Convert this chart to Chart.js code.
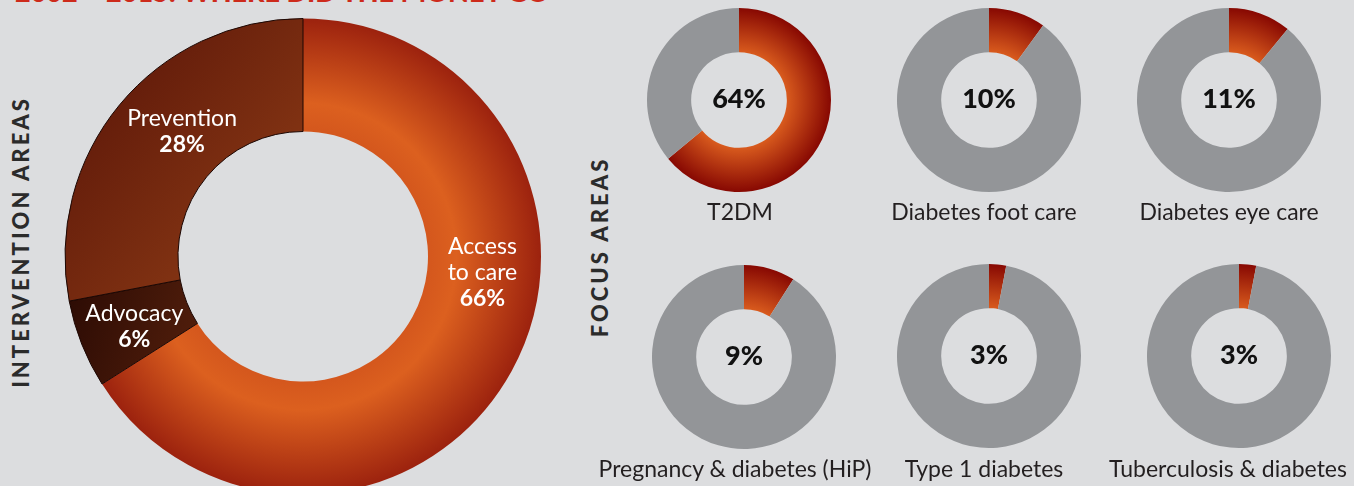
<!DOCTYPE html>
<html>
<head>
<meta charset="utf-8">
<script src="https://cdn.jsdelivr.net/npm/chart.js@4.4.1/dist/chart.umd.min.js"></script>
<style>
  html, body { margin: 0; padding: 0; }
  body { width: 1354px; height: 486px; background: #dcdddf; position: relative; overflow: hidden; font-family: Lato, sans-serif; }
  canvas { position: absolute; }
  .title { position: absolute; left: 15px; top: -22px; font-weight: 900; font-size: 27px; line-height: 27px; color: #cd2a1b; white-space: nowrap; }
  .side { position: absolute; font-weight: 900; font-size: 22px; line-height: 22px; color: #2b2b2b; letter-spacing: 3px; white-space: nowrap; transform: translate(-50%, -50%) rotate(-90deg); }
  .cap { position: absolute; font-size: 23px; line-height: 23px; color: #231f20; white-space: nowrap; transform: translateX(-50%); }
</style>
</head>
<body>
<div class="title">2002 – 2015: WHERE DID THE MONEY GO</div>
<div class="side" style="left:21px; top:242px">INTERVENTION AREAS</div>
<div class="side" style="left:600px; top:247px">FOCUS AREAS</div>
<canvas id="areas" width="600" height="513" style="left:3px; top:0px"></canvas>
<script>
// intervention areas (big ring)
const areaLabels = [['Access', 'to care'], ['Advocacy'], ['Prevention']]
const areaValues = [66, 6, 28]

// focus areas (small rings), share in %
const focusLabels = ['T2DM', 'Diabetes foot care', 'Diabetes eye care',
  'Pregnancy & diabetes (HiP)', 'Type 1 diabetes', 'Tuberculosis & diabetes']
const focusValues = [64, 10, 11, 9, 3, 3]

// layout
const bigR = 238, bigCut = 125
const labelAngle = [94.6, 247.9, 316.3]
const labelDist = [180, 182, 175]
const smallR = 92
const focusCenters = [[739, 100], [989, 100], [1229, 100], [744, 357], [989, 356], [1239, 356]]
const capCenters = [[740, 200], [984, 200], [1229, 200], [735, 457], [984, 457], [1228, 457]]

const center = (chart) => {
  const a = chart.chartArea
  return [(a.left + a.right) / 2, (a.top + a.bottom) / 2]
}

// one function for all three slices (arrays of functions are not resolved)
const areaFill = (c) => {
  const fallback = ['#d65a1e', '#3a1207', '#7a2c10'][c.dataIndex]
  if (!c.chart.chartArea) return fallback
  const [cx, cy] = center(c.chart)
  const ctx = c.chart.ctx
  let g
  if (c.dataIndex == 0) {
    g = ctx.createRadialGradient(cx, cy, bigCut, cx, cy, bigR)
    g.addColorStop(0, '#d4571d')
    g.addColorStop(0.25, '#dc601f')
    g.addColorStop(1, '#9c220e')
  } else if (c.dataIndex == 1) {
    g = ctx.createLinearGradient(cx - bigR, cy + 40, cx - 110, cy + 80)
    g.addColorStop(0, '#2c0b04')
    g.addColorStop(1, '#4f1d0b')
  } else {
    g = ctx.createLinearGradient(cx - bigR, cy - 200, cx, cy)
    g.addColorStop(0, '#5a1508')
    g.addColorStop(1, '#8e3c16')
  }
  return g
}

const areaText = {
  id: 'areaText',
  afterDatasetsDraw(chart) {
    const ctx = chart.ctx
    const [cx, cy] = center(chart)
    ctx.save()
    ctx.fillStyle = '#fff'
    ctx.textAlign = 'center'
    ctx.textBaseline = 'alphabetic'
    areaValues.forEach((v, i) => {
      const a = labelAngle[i] * Math.PI / 180
      const x = cx + labelDist[i] * Math.sin(a)
      const y = cy - labelDist[i] * Math.cos(a)
      const lines = [...areaLabels[i], v + '%']
      lines.forEach((t, j) => {
        ctx.font = (j == lines.length - 1 ? '700 ' : '400 ') + '23px Lato'
        ctx.fillText(t, x, y + 9 + 26 * (j - (lines.length - 1) / 2))
      })
    })
    ctx.restore()
  }
}

new Chart(document.getElementById('areas'), {
  type: 'doughnut',
  data: {
    labels: areaLabels,
    datasets: [{
      data: areaValues,
      backgroundColor: areaFill,
      borderColor: (c) => c.dataIndex == 0 ? 'rgba(0,0,0,0)' : '#1c0703',
      borderWidth: 1,
    }]
  },
  options: {
    responsive: false,
    animation: false,
    devicePixelRatio: 1,
    events: [],
    radius: bigR,
    cutout: (bigCut / bigR * 100) + '%',
    plugins: { legend: { display: false }, tooltip: { enabled: false } }
  },
  plugins: [areaText]
})

const focusFill = (c) => {
  if (c.dataIndex == 1) return '#939598'
  if (!c.chart.chartArea) return '#c0401a'
  const [cx, cy] = center(c.chart)
  const g = c.chart.ctx.createRadialGradient(cx, cy, smallR * 0.52, cx, cy, smallR)
  g.addColorStop(0, '#d85a1d')
  g.addColorStop(1, '#870802')
  return g
}

const centerText = {
  id: 'centerText',
  afterDraw(chart) {
    const ctx = chart.ctx
    const [cx, cy] = center(chart)
    ctx.save()
    ctx.font = '900 27px Lato'
    ctx.fillStyle = '#111'
    ctx.textAlign = 'center'
    ctx.textBaseline = 'alphabetic'
    ctx.fillText(chart.data.datasets[0].data[0] + '%', cx, cy + 8)
    ctx.restore()
  }
}

focusValues.forEach((v, i) => {
  const cv = document.createElement('canvas')
  cv.width = 200
  cv.height = 200
  cv.style.left = (focusCenters[i][0] - 100) + 'px'
  cv.style.top = (focusCenters[i][1] - 100) + 'px'
  document.body.appendChild(cv)

  new Chart(cv, {
    type: 'doughnut',
    data: {
      labels: [focusLabels[i], ''],
      datasets: [{
        data: [v, 100 - v],
        backgroundColor: focusFill,
        borderWidth: 0,
      }]
    },
    options: {
      responsive: false,
      animation: false,
      devicePixelRatio: 1,
      events: [],
      radius: smallR,
      cutout: '52%',
      plugins: { legend: { display: false }, tooltip: { enabled: false } }
    },
    plugins: [centerText]
  })

  const cap = document.createElement('div')
  cap.className = 'cap'
  cap.textContent = focusLabels[i]
  cap.style.left = capCenters[i][0] + 'px'
  cap.style.top = capCenters[i][1] + 'px'
  document.body.appendChild(cap)
})
</script>
</body>
</html>
